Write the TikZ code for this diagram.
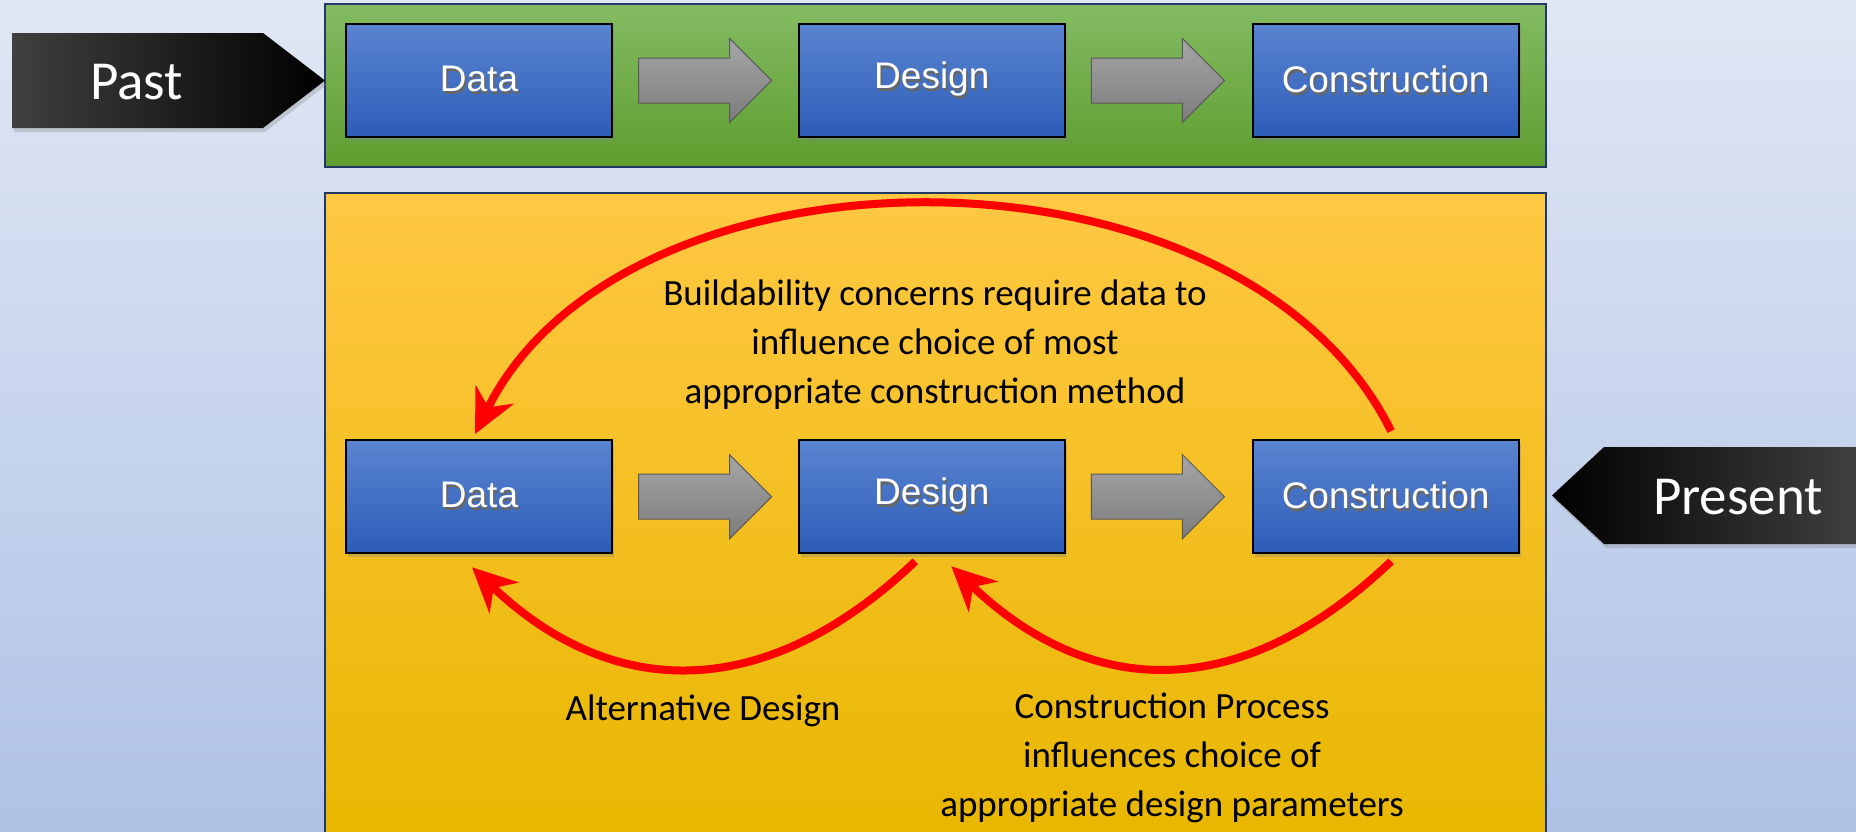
\documentclass[tikz,border=0pt]{standalone}
\usepackage{fontspec}
\setmainfont{Carlito}
\newfontfamily\boxfont{Liberation Sans}
\usepackage{tikz}
\usetikzlibrary{arrows.meta,positioning,shapes.arrows,shadows,calc}
\definecolor{bgtop}{HTML}{E0E7F4}
\definecolor{bgbot}{HTML}{AFC2E6}
\definecolor{greentop}{HTML}{84BB63}
\definecolor{greenbot}{HTML}{5E9E2F}
\definecolor{yellowtop}{HTML}{FFC843}
\definecolor{yellowbot}{HTML}{E8B700}
\definecolor{bluetop}{HTML}{5B84D1}
\definecolor{bluebot}{HTML}{2C5DB8}
\definecolor{graytop}{HTML}{A6A6A6}
\definecolor{graybot}{HTML}{7C7C7C}
\definecolor{panelline}{HTML}{1F3864}
\newcommand{\shlabel}[1]{\makebox[0pt][l]{\hspace{0.8pt}\raisebox{-1.3pt}{\textcolor{black!60}{#1}}}#1}

\begin{document}
\begin{tikzpicture}[x=0.5pt,y=-0.5pt,
  font=\fontsize{18.5}{24.5}\selectfont,
  blk/.style={draw=black,line width=1.1pt,minimum width=133pt,minimum height=56.5pt,
    top color=bluetop,bottom color=bluebot,text=white,
    font=\boxfont\fontsize{18.5}{22}\selectfont,
    drop shadow={opacity=0.35,shadow xshift=1.2pt,shadow yshift=-2pt}},
  gar/.style={single arrow,draw=black!65,line width=0.5pt,top color=graytop,bottom color=graybot,
    minimum height=66.5pt,single arrow head extend=9.75pt,inner sep=0pt},
  tagshape/.style={draw=none,drop shadow={opacity=0.3,shadow xshift=1pt,shadow yshift=-2pt}},
  tag/.style={text=white,font=\fontsize{27.5}{30}\selectfont},
  fb/.style={red,line width=4pt,-{Stealth[length=22pt,width=21pt,inset=7pt]}},
  lbl/.style={align=center,text=black}]
\useasboundingbox (0,0) rectangle (1856,831);
\shade[top color=bgtop,bottom color=bgbot] (0,0) rectangle (1856,831);
% panels
\shade[top color=greentop,bottom color=greenbot,draw=panelline,line width=0.6pt] (325,4) rectangle (1546,167);
\shade[top color=yellowtop,bottom color=yellowbot,draw=panelline,line width=0.6pt] (325,193) rectangle (1546,840);
% past
\shade[tagshape,left color=black!75,middle color=black,right color=black]
  (12,33) -- (263,33) -- (325,80.5) -- (263,128) -- (12,128) -- cycle;
\node[tag] (past) at (136.5,82) {Past};
\node[blk] (data1) at (479,80.5) {\shlabel{Data}};
\node[blk,right=92.3pt of data1] (design1) {\shlabel{Design}};
\node[blk,right=92.8pt of design1] (constr1) {\shlabel{Construction}};
\node[gar,right=12.5pt of data1] (ga1) {\rule{0pt}{22pt}};
\node[gar,right=12.5pt of design1] (ga2) {\rule{0pt}{22pt}};
% present
\node[blk,below=150.5pt of data1] (data2) {\shlabel{Data}};
\node[blk,right=92.3pt of data2] (design2) {\shlabel{Design}};
\node[blk,right=92.8pt of design2] (constr2) {\shlabel{Construction}};
\node[gar,right=12.5pt of data2] (ga3) {\rule{0pt}{22pt}};
\node[gar,right=12.5pt of design2] (ga4) {\rule{0pt}{22pt}};
\shade[tagshape,left color=black,middle color=black,right color=black!75]
  (1860,447) -- (1604,447) -- (1552,495.5) -- (1604,544) -- (1860,544) -- cycle;
\node[tag] (present) at (1738,497) {Present};
% feedback loops
\draw[fb] ([xshift=2.75pt,yshift=4pt]constr2.north) .. controls +(-150,-303) and +(150,-303)
  .. ([xshift=-2pt,yshift=2.5pt]data2.north);
\draw[fb] ([xshift=-8.25pt,yshift=-3.5pt]design2.south) .. controls +(-145,138) and +(145,138)
  .. ([xshift=-3.5pt,yshift=-6.5pt]data2.south);
\draw[fb] ([xshift=2.75pt,yshift=-3.5pt]constr2.south) .. controls +(-145,138) and +(145,138)
  .. ([xshift=9.75pt,yshift=-6pt]design2.south);
\node[lbl] (buildnote) at (935,345) {Buildability concerns require data to\\influence choice of most\\appropriate construction method};
\node[lbl] (altnote) at (703,711) {Alternative Design};
\node[lbl] (procnote) at (1172,758) {Construction Process\\influences choice of\\appropriate design parameters};
\end{tikzpicture}
\end{document}
